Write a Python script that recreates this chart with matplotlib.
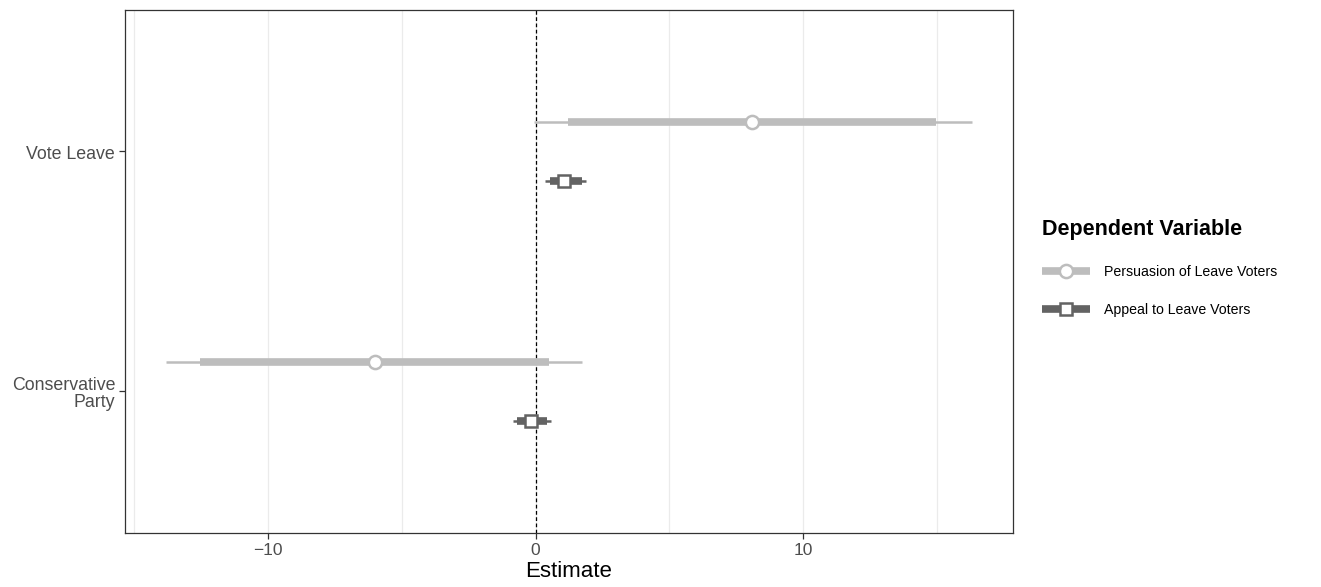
import matplotlib
matplotlib.use("Agg")
import matplotlib.pyplot as plt
import matplotlib.transforms as mtransforms
from matplotlib.lines import Line2D
from matplotlib.legend_handler import HandlerTuple

plt.rcParams['font.family'] = ['Liberation Sans', 'DejaVu Sans']

# Data
groups = ['Conservative\nParty', 'Vote Leave']
models = ['Persuasion of Leave Voters', 'Appeal to Leave Voters']
estimate = {
    'Persuasion of Leave Voters': [-6.0, 8.1],
    'Appeal to Leave Voters': [-0.17, 1.08],
}
ci95_low = {
    'Persuasion of Leave Voters': [-13.8, -0.05],
    'Appeal to Leave Voters': [-0.85, 0.36],
}
ci95_high = {
    'Persuasion of Leave Voters': [1.75, 16.3],
    'Appeal to Leave Voters': [0.58, 1.88],
}
ci90_low = {
    'Persuasion of Leave Voters': [-12.55, 1.23],
    'Appeal to Leave Voters': [-0.7, 0.54],
}
ci90_high = {
    'Persuasion of Leave Voters': [0.52, 14.97],
    'Appeal to Leave Voters': [0.42, 1.73],
}

colors = {'Persuasion of Leave Voters': '#bdbdbd', 'Appeal to Leave Voters': '#636363'}
markers = {'Persuasion of Leave Voters': 'o', 'Appeal to Leave Voters': 's'}
msizes = {'Persuasion of Leave Voters': 9.5, 'Appeal to Leave Voters': 8}
offsets = {'Persuasion of Leave Voters': 0.123, 'Appeal to Leave Voters': -0.123}

fig = plt.figure(figsize=(13.21, 5.87), dpi=100)
ax = fig.add_axes([0.0946, 0.092, 0.6723, 0.891])

for m in models:
    for i, g in enumerate(groups):
        y = i + 1 + offsets[m]
        ax.plot([ci95_low[m][i], ci95_high[m][i]], [y, y], color=colors[m], lw=1.8,
                solid_capstyle='butt', zorder=3)
        ax.plot([ci90_low[m][i], ci90_high[m][i]], [y, y], color=colors[m], lw=5.5,
                solid_capstyle='butt', zorder=3)
        ax.plot([estimate[m][i]], [y], marker=markers[m], ms=msizes[m],
                mfc='white', mec=colors[m], mew=1.8, zorder=4)

ax.axvline(0, color='black', ls=(0, (3, 2)), lw=0.9, zorder=2)

ax.set_xlim(-15.35, 17.85)
ax.set_ylim(0.408, 2.59)
ax.set_xticks([-10, 0, 10])
ax.set_xticks([-15, -5, 5, 15], minor=True)
ax.set_yticks([1, 2])
ax.set_yticklabels([])
ax.grid(True, axis='x', which='both', color='#ebebeb', lw=0.9, zorder=0)
ax.set_axisbelow(True)

# y labels as text so multi-line labels can be right aligned
lab_tr = ax.get_yaxis_transform() + mtransforms.ScaledTranslation(-7 / 72, -2 / 72, fig.dpi_scale_trans)
for i, g in enumerate(groups):
    ax.text(0, i + 1, g, transform=lab_tr, ha='right', va='center', ma='right',
            fontsize=12.8, color='#4d4d4d', linespacing=1.0)

for s in ax.spines.values():
    s.set_color('#333333')
    s.set_linewidth(0.9)
ax.tick_params(axis='both', which='major', colors='#333333', labelcolor='#4d4d4d',
               labelsize=12.5, length=4, width=0.9)
ax.tick_params(axis='x', which='minor', length=0)
ax.set_xlabel('Estimate', fontsize=16, color='black', labelpad=2)

handles = []
for m in models:
    bar = Line2D([0], [0], color=colors[m], lw=5.5, solid_capstyle='butt')
    pt = Line2D([0], [0], color=colors[m], lw=0, marker=markers[m],
                ms=msizes[m], mfc='white', mec=colors[m], mew=1.8)
    handles.append((bar, pt))

leg = fig.legend(handles, models, handler_map={tuple: HandlerTuple(ndivide=1, pad=0)},
                 loc='upper left', bbox_to_anchor=(0.779, 0.649), frameon=False,
                 title='Dependent Variable', fontsize=10.2, handlelength=3.4,
                 handletextpad=1.0, labelspacing=1.75, alignment='left')
leg.get_title().set_fontweight('bold')
leg.get_title().set_fontsize(15.5)

fig.savefig('out.png', dpi=100)
